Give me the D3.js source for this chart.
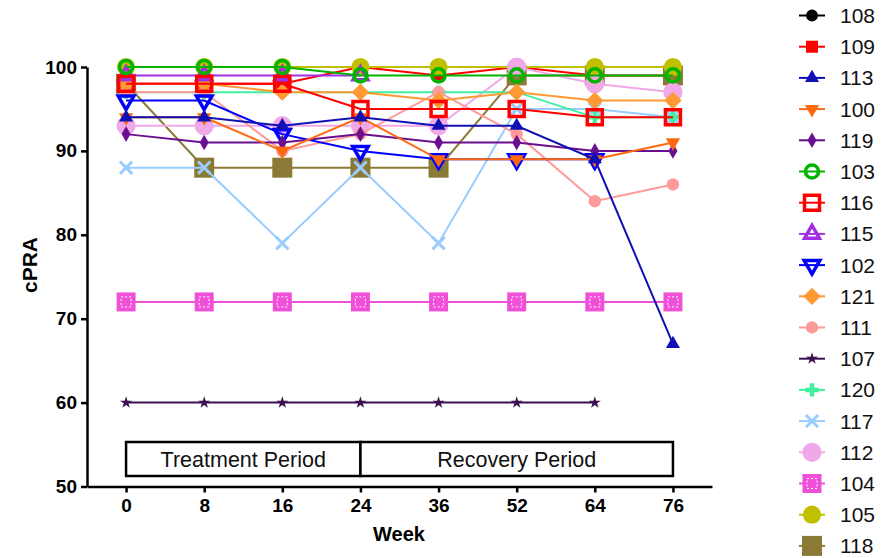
<!DOCTYPE html>
<html>
<head>
<meta charset="utf-8">
<script src="https://cdn.jsdelivr.net/npm/d3@7"></script>
<style>
  body { margin: 0; background: #fff; }
  svg { display: block; font-family: "Liberation Sans", Arial, sans-serif; }
</style>
</head>
<body>
<svg id="chart" width="892" height="558"></svg>
<script>
// weeks on the x axis (evenly spaced categories)
var weeks = ["0", "8", "16", "24", "36", "52", "64", "76"];
var yTicks = [50, 60, 70, 80, 90, 100];

// cPRA per patient, one value per week (null = not shown)
var p108 = [null, null, null, null, null, null, null, null];
var p109 = [98, 98, 98, 100, 99, 100, 99, 99];
var p113 = [94, 94, 93, 94, 93, 93, 89, 67];
var p100 = [94, 94, 90, 94, 89, 89, 89, 91];
var p119 = [92, 91, 91, 92, 91, 91, 90, 90];
var p103 = [100, 100, 100, 99, 99, 99, 99, 99];
var p116 = [98, 98, 98, 95, 95, 95, 94, 94];
var p115 = [99, 99, 99, 99, null, null, null, null];
var p102 = [96, 96, 92, 90, 89, 89, 89, null];
var p121 = [98, 98, 97, 97, 96, 97, 96, 96];
var p111 = [97, 97, 90, 92, 97, 92, 84, 86];
var p107 = [60, 60, 60, 60, 60, 60, 60, null];
var p120 = [97, 97, 97, 97, 97, 97, 94, 94];
var p117 = [88, 88, 79, 88, 79, 95, 95, 94];
var p112 = [93, 93, 93, 93, 93, 100, 98, 97];
var p104 = [72, 72, 72, 72, 72, 72, 72, 72];
var p105 = [100, 100, 100, 100, 100, 100, 100, 100];
var p118 = [98, 88, 88, 88, 88, 99, 99, 99];

var patientIds = ["108", "109", "113", "100", "119", "103", "116", "115", "102",
                  "121", "111", "107", "120", "117", "112", "104", "105", "118"];
var patientValues = [p108, p109, p113, p100, p119, p103, p116, p115, p102,
                     p121, p111, p107, p120, p117, p112, p104, p105, p118];

var periods = [
    { label: "Treatment Period", from: "0", to: "24" },
    { label: "Recovery Period", from: "24", to: "76" }
];

// styling per patient
var colours = ["#000000", "#ff0000", "#1010b4", "#ff6a10", "#6a0f90", "#00b400",
               "#ff0000", "#a030e0", "#0000ff", "#ff9933", "#ff9a9a", "#3c1053",
               "#40f0a0", "#99ccff", "#f0a8e8", "#f050d8", "#c0c000", "#8b7a35"];
var shapes = ["circle", "square", "triangle", "triangleDown", "diamond", "circle",
              "square", "triangle", "triangleDown", "square45", "circle", "star",
              "cross", "times", "circle", "squareDots", "circle", "square"];
var sizes = [113, 144, 85, 90, 70, 135, 225, 95, 105, 150, 120, 45,
             100, 100, 290, 361, 260, 400];
var hollow = [false, false, false, false, false, true, true, true, true,
              false, false, false, false, false, false, false, false, false];

var svg = d3.select("#chart");

var x = d3.scalePoint()
    .domain(weeks)
    .range([87, 712])
    .padding(0.5);

var y = d3.scaleLinear()
    .domain([50, 100])
    .range([486.5, 67]);

var symbolTypes = {
    circle: d3.symbolCircle,
    square: d3.symbolSquare,
    square45: d3.symbolSquare,
    squareDots: d3.symbolSquare,
    triangle: d3.symbolTriangle,
    triangleDown: d3.symbolTriangle,
    diamond: d3.symbolDiamond,
    star: d3.symbolStar,
    cross: d3.symbolCross,
    times: d3.symbolTimes
};

var drawMarker = function(sel, i) {
    var shape = shapes[i];
    var col = colours[i];
    var rot = shape === "triangleDown" ? 180 : (shape === "square45" ? 45 : 0);
    var path = sel.append("path")
        .attr("d", d3.symbol().type(symbolTypes[shape]).size(sizes[i])())
        .attr("transform", rot ? "rotate(" + rot + ")" : null);
    if (shape === "times") {
        path.attr("fill", "none").attr("stroke", col).attr("stroke-width", 3);
    } else if (hollow[i]) {
        path.attr("fill", "none").attr("stroke", col).attr("stroke-width", 3.5);
    } else {
        path.attr("fill", col);
    }
    if (shape === "squareDots") {
        sel.append("rect")
            .attr("x", -5).attr("y", -5)
            .attr("width", 10).attr("height", 10)
            .attr("fill", "none")
            .attr("stroke", "#fff")
            .attr("stroke-width", 1)
            .attr("stroke-dasharray", "2,2");
    }
};

// axes
var yAxis = d3.axisLeft(y).tickValues(yTicks).tickSize(6).tickSizeOuter(0).tickPadding(4);
var xAxis = d3.axisBottom(x).tickSize(6).tickSizeOuter(0).tickPadding(6);

var gy = svg.append("g").attr("transform", "translate(87,0)").call(yAxis);
var gx = svg.append("g").attr("transform", "translate(0,486.5)").call(xAxis);

[gx, gy].forEach(function(g) {
    g.selectAll("path, line").attr("stroke", "#000").attr("stroke-width", 2.5);
    g.selectAll("text")
        .attr("fill", "#000")
        .style("font-size", "19px")
        .style("font-weight", "bold");
});

svg.append("text")
    .attr("x", 399).attr("y", 541)
    .attr("text-anchor", "middle")
    .style("font-size", "20px").style("font-weight", "bold")
    .text("Week");

svg.append("text")
    .attr("transform", "translate(37,265) rotate(-90)")
    .attr("text-anchor", "middle")
    .style("font-size", "21px").style("font-weight", "bold")
    .text("cPRA");

// period boxes
var boxes = svg.selectAll(".period")
    .data(periods)
  .enter()
    .append("g")
    .attr("class", "period");

boxes.append("rect")
    .attr("x", function(d) { return x(d.from); })
    .attr("y", 442)
    .attr("width", function(d) { return x(d.to) - x(d.from); })
    .attr("height", 34)
    .attr("fill", "#fff")
    .attr("stroke", "#000")
    .attr("stroke-width", 2.5);

boxes.append("text")
    .attr("x", function(d) { return (x(d.from) + x(d.to)) / 2; })
    .attr("y", 467)
    .attr("text-anchor", "middle")
    .style("font-size", "21.5px")
    .attr("fill", "#111")
    .text(function(d) { return d.label; });

// series: 109 sits at the bottom, then the rest with later ids below earlier ones
var line = d3.line()
    .defined(function(d) { return d != null; })
    .x(function(d, i) { return x(weeks[i]); })
    .y(function(d) { return y(d); });

var order = [1].concat(d3.range(patientIds.length).reverse().filter(function(i) { return i !== 1; }));

order.forEach(function(i) {
    var vals = patientValues[i];
    var g = svg.append("g").attr("class", "series s" + patientIds[i]);
    g.append("path")
        .attr("d", line(vals))
        .attr("fill", "none")
        .attr("stroke", colours[i])
        .attr("stroke-width", 2);
    vals.forEach(function(v, k) {
        if (v == null) return;
        var m = g.append("g")
            .attr("transform", "translate(" + x(weeks[k]) + "," + y(v) + ")");
        drawMarker(m, i);
    });
});

// legend
var legend = svg.append("g").attr("class", "legend");
patientIds.forEach(function(id, i) {
    var ly = 15.5 + i * 31.2;
    var row = legend.append("g").attr("transform", "translate(0," + ly + ")");
    row.append("line")
        .attr("x1", 799).attr("x2", 825)
        .attr("stroke", colours[i])
        .attr("stroke-width", 2);
    var m = row.append("g").attr("transform", "translate(812,0)");
    drawMarker(m, i);
    row.append("text")
        .attr("x", 840).attr("y", 7.5)
        .style("font-size", "21px")
        .attr("fill", "#111")
        .text(id);
});
</script>
</body>
</html>
